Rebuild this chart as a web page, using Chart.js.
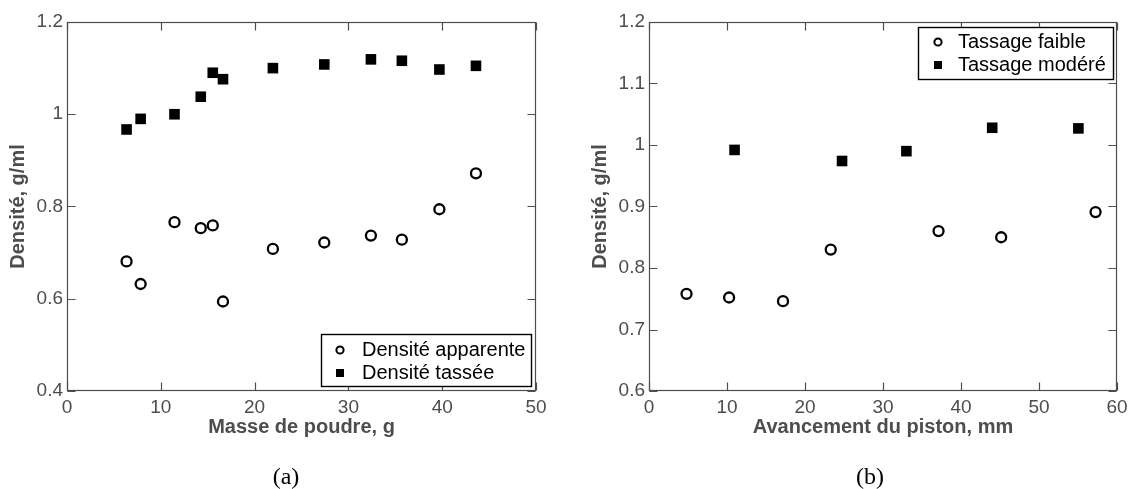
<!DOCTYPE html>
<html><head><meta charset="utf-8">
<script src="https://cdn.jsdelivr.net/npm/chart.js@4"></script>
<style>
html,body{margin:0;padding:0;background:#fff;width:1131px;height:489px;overflow:hidden;}
.box{position:absolute;top:0;height:489px;}
.cap{position:absolute;font-family:'Liberation Serif','Times New Roman',serif;font-size:24px;color:#000;transform:translateX(-50%);line-height:1;white-space:nowrap;}
</style></head><body>
<div class="box" style="left:0;width:565px"><canvas id="ca"></canvas></div>
<div class="box" style="left:565px;width:566px"><canvas id="cb"></canvas></div>
<div class="cap" style="left:286px;top:464px">(a)</div>
<div class="cap" style="left:870px;top:464px">(b)</div>
<script>
// ---- data (a) ----
const masseA = [6.35, 7.85, 11.46, 14.26, 15.54, 16.63, 21.95, 27.43, 32.4, 35.7, 39.7, 43.6];
const densApparente = [0.681, 0.632, 0.766, 0.753, 0.759, 0.594, 0.708, 0.722, 0.737, 0.728, 0.794, 0.872];
const densTassee = [0.967, 0.990, 1.000, 1.038, 1.090, 1.076, 1.100, 1.108, 1.119, 1.116, 1.097, 1.105];
const xTicksA = [0, 10, 20, 30, 40, 50];
const yTicksA = [0.4, 0.6, 0.8, 1, 1.2];
// ---- data (b) ----
const pistonFaible = [4.81, 10.27, 17.18, 23.3, 37.12, 45.15, 57.25];
const densFaible = [0.758, 0.752, 0.746, 0.830, 0.860, 0.850, 0.891];
const pistonModere = [10.97, 24.75, 33.0, 44.0, 55.05];
const densModere = [0.992, 0.974, 0.990, 1.028, 1.027];
const xTicksB = [0, 10, 20, 30, 40, 50, 60];
const yTicksB = [0.6, 0.7, 0.8, 0.9, 1, 1.1, 1.2];

Chart.defaults.font.family = "'Liberation Sans', Arial, Helvetica, sans-serif";
const AXIS = '#4d4d4d';

const framePlugin = {
  id: 'frame',
  beforeDatasetsDraw(chart) {
    const {ctx, chartArea: ca, scales} = chart;
    const L = Math.round(ca.left) + 0.5, R = Math.round(ca.right) - 0.5;
    const T = Math.round(ca.top) + 0.5, B = Math.round(ca.bottom) - 0.5;
    ctx.save();
    ctx.strokeStyle = AXIS; ctx.lineWidth = 1.2;
    ctx.strokeRect(L, T, R - L, B - T);
    ctx.beginPath();
    const tl = 8;
    scales.x.ticks.forEach(t => {
      const px = Math.round(scales.x.getPixelForValue(t.value)) + 0.5;
      ctx.moveTo(px, B); ctx.lineTo(px, B - tl);
      ctx.moveTo(px, T); ctx.lineTo(px, T + tl);
    });
    scales.y.ticks.forEach(t => {
      const py = Math.round(scales.y.getPixelForValue(t.value)) + 0.5;
      ctx.moveTo(L, py); ctx.lineTo(L + tl, py);
      ctx.moveTo(R, py); ctx.lineTo(R - tl, py);
    });
    ctx.stroke();
    ctx.restore();
  },
  afterDatasetsDraw(chart, args, opts) {
    if (!opts || !opts.box) return;
    const {ctx} = chart;
    const b = opts.box;
    ctx.save();
    ctx.fillStyle = '#fff';
    ctx.fillRect(b.x, b.y, b.w, b.h);
    ctx.strokeStyle = '#000'; ctx.lineWidth = 1.4;
    ctx.strokeRect(b.x + 0.5, b.y + 0.5, b.w, b.h);
    ctx.font = "20px 'Liberation Sans', Arial, sans-serif";
    ctx.textBaseline = 'middle'; ctx.textAlign = 'left';
    chart.data.datasets.forEach((ds, i) => {
      const yy = b.y + opts.rows[i];
      const mx = b.x + opts.markerX;
      if (ds.pointStyle === 'circle') {
        ctx.beginPath(); ctx.arc(mx, yy, 3.6, 0, Math.PI * 2);
        ctx.fillStyle = '#fff'; ctx.fill();
        ctx.lineWidth = 2; ctx.strokeStyle = '#000'; ctx.stroke();
      } else {
        ctx.fillStyle = '#000'; ctx.fillRect(mx - 4, yy - 4, 8, 8);
      }
      ctx.fillStyle = '#000';
      ctx.fillText(ds.label, b.x + opts.textX, yy);
    });
    ctx.restore();
  }
};

function ticksFrom(arr) {
  return function (scale) { scale.ticks = arr.map(v => ({value: v})); };
}

function makeChart(id, datasets, o) {
  return new Chart(document.getElementById(id), {
    type: 'scatter',
    data: {datasets},
    plugins: [framePlugin],
    options: {
      responsive: true, maintainAspectRatio: false, animation: false,
      devicePixelRatio: 1, events: [],
      layout: {padding: {left: 0, top: 22, right: o.padRight, bottom: 0}},
      plugins: {legend: {display: false}, tooltip: {enabled: false}, frame: {box: o.box, rows: o.rows, markerX: o.markerX, textX: o.textX}},
      scales: {
        x: {
          type: 'linear', min: o.xMin, max: o.xMax,
          afterBuildTicks: ticksFrom(o.xTicks),
          afterFit(s) { s.height = 98; s.paddingLeft = 0; s.paddingRight = 0; },
          grid: {display: false, drawTicks: false}, border: {display: false},
          ticks: {padding: 5, color: AXIS, font: {size: 19}, maxRotation: 0, autoSkip: false, callback: v => String(v)},
          title: {display: true, text: o.xTitle, color: AXIS, font: {size: 20, weight: 'bold'}, padding: {top: 0, bottom: 50}}
        },
        y: {
          type: 'linear', min: o.yMin, max: o.yMax,
          afterBuildTicks: ticksFrom(o.yTicks),
          afterFit(s) { s.width = o.yWidth; s.paddingTop = 0; s.paddingBottom = 0; },
          grid: {display: false, drawTicks: false}, border: {display: false},
          ticks: {padding: 4, color: AXIS, font: {size: 19}, autoSkip: false, callback: v => String(v)},
          title: {display: true, text: 'Densité, g/ml', color: AXIS, font: {size: 20, weight: 'bold'}, padding: {top: o.yTitlePad, bottom: 0}}
        }
      }
    }
  });
}

const circleStyle = {pointStyle: 'circle', pointRadius: 5, pointBorderWidth: 2.3, pointBorderColor: '#000', pointBackgroundColor: '#fff', showLine: false};
const squareStyle = {pointStyle: 'rect', pointRadius: 7.5, pointBorderWidth: 0, pointBorderColor: '#000', pointBackgroundColor: '#000', showLine: false};

makeChart('ca', [
  Object.assign({label: 'Densité apparente', data: masseA.map((x, i) => ({x, y: densApparente[i]}))}, circleStyle),
  Object.assign({label: 'Densité tassée', data: masseA.map((x, i) => ({x, y: densTassee[i]}))}, squareStyle)
], {
  padRight: 29, yWidth: 67, yTitlePad: 6, xMin: 0, xMax: 50, yMin: 0.4, yMax: 1.2,
  xTicks: xTicksA, yTicks: yTicksA, xTitle: 'Masse de poudre, g',
  box: {x: 321, y: 334, w: 210, h: 52}, rows: [16, 39], markerX: 19, textX: 41
});

makeChart('cb', [
  Object.assign({label: 'Tassage faible', data: pistonFaible.map((x, i) => ({x, y: densFaible[i]}))}, circleStyle),
  Object.assign({label: 'Tassage modéré', data: pistonModere.map((x, i) => ({x, y: densModere[i]}))}, squareStyle)
], {
  padRight: 14, yWidth: 84, yTitlePad: 23, xMin: 0, xMax: 60, yMin: 0.6, yMax: 1.2,
  xTicks: xTicksB, yTicks: yTicksB, xTitle: 'Avancement du piston, mm',
  box: {x: 918 - 565, y: 27, w: 195, h: 52}, rows: [15, 38], markerX: 20, textX: 40
});
</script>
</body></html>
